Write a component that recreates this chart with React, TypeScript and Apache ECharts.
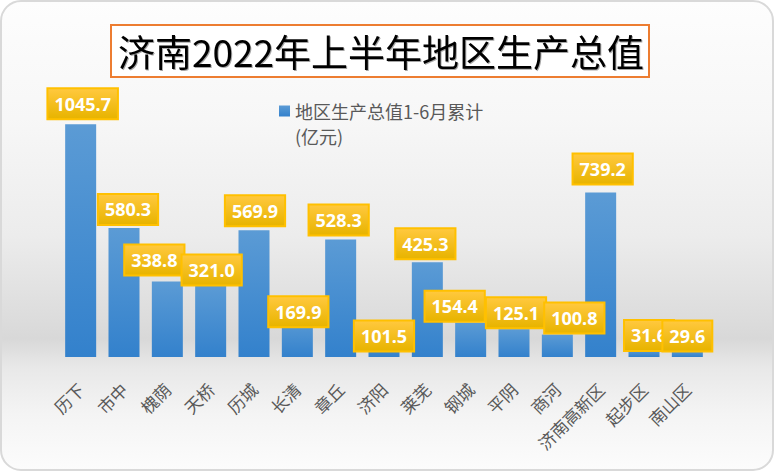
import { useEffect, useRef } from 'react';
import * as echarts from 'echarts';

const districts = [
  '历下', '市中', '槐荫', '天桥', '历城', '长清', '章丘', '济阳',
  '莱芜', '钢城', '平阴', '商河', '济南高新区', '起步区', '南山区',
];
const gdpValues = [
  1045.7, 580.3, 338.8, 321.0, 569.9, 169.9, 528.3, 101.5,
  425.3, 154.4, 125.1, 100.8, 739.2, 31.6, 29.6,
];
const seriesName = '地区生产总值1-6月累计';
const unitLine = '(亿元)';
const titleText = '济南2022年上半年地区生产总值';

// hand-placed label nudges, like the moved labels in the source
const labelNudges: [number, number][] = [
  [2, -1], [4, 1], [-13, -2], [1, 4], [1, 0], [1, 12], [-2, 0], [0, 21],
  [-2, 1], [-16, 3], [2, 3], [17, 3], [2, -4], [5, 5], [0, 5],
];

export default function App() {
  const containerRef = useRef<HTMLDivElement | null>(null);

  useEffect(() => {
    document.body.style.margin = '0';
    if (!containerRef.current) return;
    const chart = echarts.init(containerRef.current, undefined, { renderer: 'svg' });

    chart.setOption({
      animation: false,
      backgroundColor: '#ffffff',
      grid: { left: 59, right: 67, top: 90, bottom: 116 },
      legend: {
        left: 279,
        top: 102,
        padding: 0,
        itemWidth: 11,
        itemHeight: 11,
        icon: 'rect',
        data: [seriesName],
        textStyle: {
          color: '#595959',
          fontSize: 18,
          lineHeight: 18,
          fontFamily: 'Noto Sans CJK SC',
        },
      },
      xAxis: {
        type: 'category',
        data: districts,
        axisLine: { show: false },
        axisTick: { show: false },
        axisLabel: {
          rotate: 45,
          margin: 29,
          interval: 0,
          color: '#595959',
          fontSize: 17,
          fontFamily: 'Noto Sans CJK SC',
        },
      },
      yAxis: {
        type: 'value',
        min: 0,
        max: 1200,
        show: false,
        splitLine: { show: false },
      },
      series: [
        {
          name: seriesName,
          type: 'bar',
          barWidth: 31,
          data: gdpValues.map((value, i) => ({
            value,
            label: { offset: labelNudges[i] },
          })),
          itemStyle: {
            color: new echarts.graphic.LinearGradient(0, 0, 0, 1, [
              { offset: 0, color: '#5B9BD5' },
              { offset: 1, color: '#3381CC' },
            ]),
          },
          label: {
            show: true,
            position: 'top',
            distance: 5,
            formatter: (p: { value: number }) => p.value.toFixed(1),
            color: '#ffffff',
            fontSize: 18,
            fontWeight: 'bold',
            fontFamily: 'Noto Sans',
            lineHeight: 19,
            padding: [5, 6],
            borderColor: '#FFC000',
            borderWidth: 2,
            backgroundColor: new echarts.graphic.LinearGradient(0, 0, 0, 1, [
              { offset: 0, color: '#FFC83D' },
              { offset: 1, color: '#E8B400' },
            ]),
          },
        },
      ],
      graphic: [
        {
          type: 'rect',
          z: -10,
          silent: true,
          shape: { x: 1, y: 1, width: 772, height: 469, r: 20 },
          style: {
            fill: new echarts.graphic.LinearGradient(0, 0, 0, 1, [
              { offset: 0, color: '#fdfdfd' },
              { offset: 0.25, color: '#f7f7f7' },
              { offset: 0.5, color: '#ececec' },
              { offset: 0.68, color: '#dcdcdc' },
              { offset: 0.72, color: '#d8d8d8' },
              { offset: 0.78, color: '#e8e8e8' },
              { offset: 0.88, color: '#f4f4f4' },
              { offset: 1, color: '#fcfcfc' },
            ]),
            stroke: '#d9d9d9',
            lineWidth: 2,
          },
        },
        {
          type: 'rect',
          z: 5,
          shape: { x: 111, y: 25, width: 538, height: 52 },
          style: { fill: '#ffffff', stroke: '#ED7D31', lineWidth: 2 },
        },
        {
          type: 'text',
          z: 6,
          x: 381,
          y: 51,
          style: {
            text: titleText,
            fill: '#000000',
            fontSize: 37,
            fontFamily: 'Noto Sans CJK SC',
            align: 'center',
            verticalAlign: 'middle',
            textShadowColor: 'rgba(0,0,0,0.35)',
            textShadowOffsetX: 1,
            textShadowOffsetY: 1,
            textShadowBlur: 1,
          },
        },
        {
          type: 'text',
          z: 6,
          x: 295,
          y: 127,
          style: {
            text: unitLine,
            fill: '#595959',
            fontSize: 18,
            fontFamily: 'Noto Sans CJK SC',
          },
        },
      ],
    });

    return () => {
      chart.dispose();
    };
  }, []);

  return <div ref={containerRef} style={{ width: 776, height: 473 }} />;
}
